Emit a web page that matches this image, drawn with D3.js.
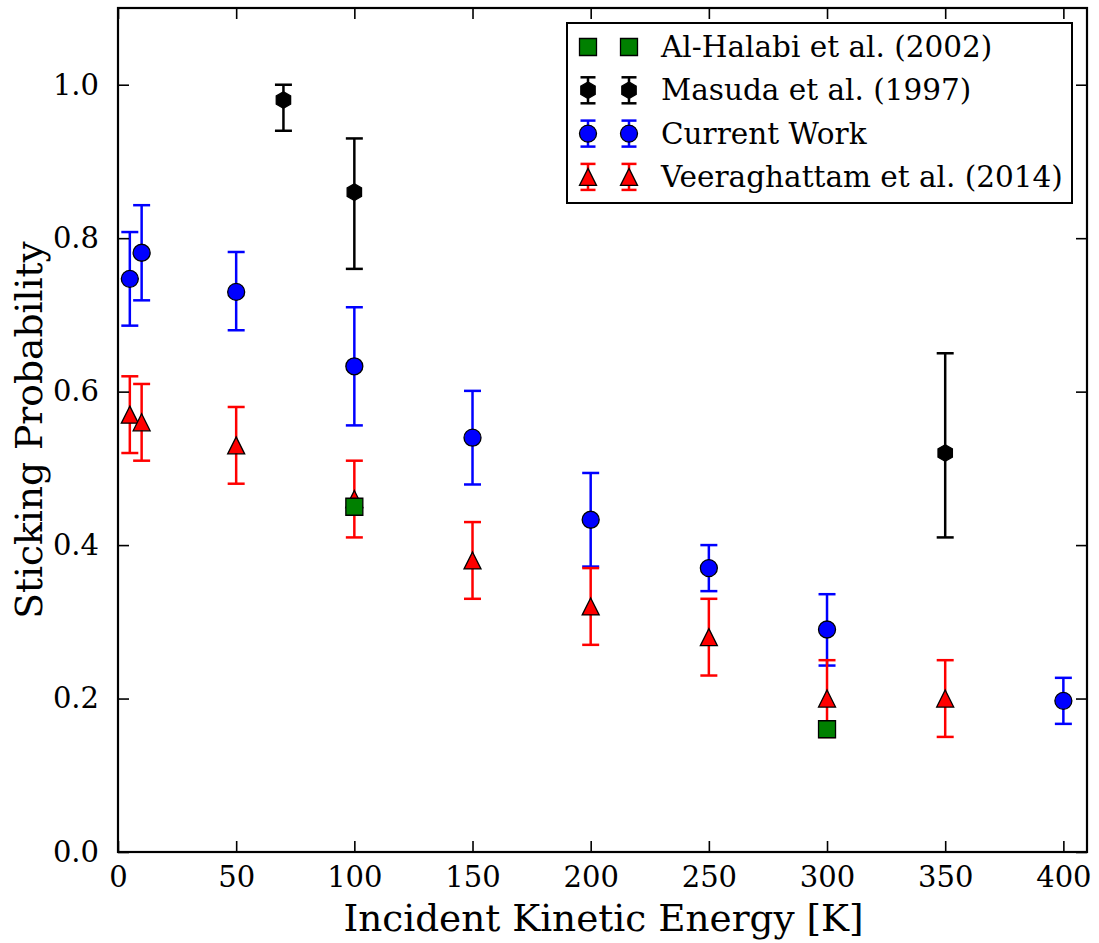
<!DOCTYPE html>
<html>
<head>
<meta charset="utf-8">
<script src="https://cdn.jsdelivr.net/npm/d3@7"></script>
<style>
  body { margin: 0; background: #fff; }
  text { font-family: 'DejaVu Serif', serif; fill: #000; }
</style>
</head>
<body>
<div class="chart"></div>
<script>
// data
const currentX = [5, 10, 50, 100, 150, 200, 250, 300, 400]
const currentY = [0.747, 0.781, 0.730, 0.633, 0.540, 0.433, 0.370, 0.290, 0.197]
const currentLo = [0.686, 0.719, 0.680, 0.556, 0.479, 0.372, 0.340, 0.243, 0.167]
const currentHi = [0.808, 0.843, 0.782, 0.710, 0.601, 0.494, 0.400, 0.336, 0.227]

const veerX = [5, 10, 50, 100, 150, 200, 250, 300, 350]
const veerY = [0.57, 0.56, 0.53, 0.46, 0.38, 0.32, 0.28, 0.20, 0.20]
const veerLo = [0.52, 0.51, 0.48, 0.41, 0.33, 0.27, 0.23, 0.15, 0.15]
const veerHi = [0.62, 0.61, 0.58, 0.51, 0.43, 0.37, 0.33, 0.25, 0.25]

const masudaX = [70, 100, 350]
const masudaY = [0.98, 0.86, 0.52]
const masudaLo = [0.94, 0.76, 0.41]
const masudaHi = [1.00, 0.93, 0.65]

const halabiX = [100, 300]
const halabiY = [0.45, 0.16]

const xTicks = [0, 50, 100, 150, 200, 250, 300, 350, 400]
const yTicks = [0.0, 0.2, 0.4, 0.6, 0.8, 1.0]

const legendNames = ['Al-Halabi et al. (2002)', 'Masuda et al. (1997)', 'Current Work', 'Veeraghattam et al. (2014)']

const svg_width = 1099
const svg_height = 943
const margin = { left: 118, right: 1087, top: 8, bottom: 852 }

const svg = d3.select('.chart').append('svg')
    .attr('width', svg_width).attr('height', svg_height)

const xScale = d3.scaleLinear([0, 410], [margin.left, margin.right])
const yScale = d3.scaleLinear([0, 1.1], [margin.bottom, margin.top])

const ms = 17

// marker paths (centred on 0,0)
function markerPath(kind) {
    const h = ms / 2
    if (kind === 'circle') return d3.symbol(d3.symbolCircle, Math.PI * h * h)()
    if (kind === 'square') return `M${-h},${-h}H${h}V${h}H${-h}Z`
    if (kind === 'triangle') return `M0,${-h}L${h},${h}L${-h},${h}Z`
    // hexagon, points up/down
    const r = 8.3
    const pts = d3.range(6).map(i => {
        const a = Math.PI / 2 + i * Math.PI / 3
        return [r * Math.cos(a), -r * Math.sin(a)]
    })
    return 'M' + pts.map(p => p.join(',')).join('L') + 'Z'
}

const series = [
    { name: 'current', xs: currentX, ys: currentY, lo: currentLo, hi: currentHi, color: '#0000ff', marker: 'circle', edge: '#000' },
    { name: 'veer', xs: veerX, ys: veerY, lo: veerLo, hi: veerHi, color: '#ff0000', marker: 'triangle', edge: '#000' },
    { name: 'masuda', xs: masudaX, ys: masudaY, lo: masudaLo, hi: masudaHi, color: '#000000', marker: 'hexagon', edge: '#000' },
    { name: 'halabi', xs: halabiX, ys: halabiY, lo: null, hi: null, color: '#008000', marker: 'square', edge: '#000' }
]

const plot = svg.append('g').attr('class', 'plot')
const capW = 17

series.forEach(s => {
    const g = plot.append('g').attr('class', s.name)
    const pts = s.xs.map((x, i) => ({ x, y: s.ys[i], lo: s.lo ? s.lo[i] : null, hi: s.hi ? s.hi[i] : null }))
    if (s.lo) {
        g.selectAll('.bar').data(pts).join('line').attr('class', 'bar')
            .attr('x1', d => xScale(d.x)).attr('x2', d => xScale(d.x))
            .attr('y1', d => yScale(d.lo)).attr('y2', d => yScale(d.hi))
            .attr('stroke', s.color).attr('stroke-width', 2.5)
        ;['lo', 'hi'].forEach(k => {
            g.selectAll('.cap' + k).data(pts).join('line').attr('class', 'cap' + k)
                .attr('x1', d => xScale(d.x) - capW / 2).attr('x2', d => xScale(d.x) + capW / 2)
                .attr('y1', d => yScale(d[k])).attr('y2', d => yScale(d[k]))
                .attr('stroke', s.color).attr('stroke-width', 2.5)
        })
    }
    g.selectAll('.pt').data(pts).join('path').attr('class', 'pt')
        .attr('transform', d => `translate(${xScale(d.x)},${yScale(d.y)})`)
        .attr('d', markerPath(s.marker))
        .attr('fill', s.color).attr('stroke', s.edge).attr('stroke-width', 1.3)
})

// axes frame with inward ticks on all sides
const tickLen = 11
const xAxisB = d3.axisBottom(xScale).tickValues(xTicks).tickSizeInner(-tickLen).tickSizeOuter(0).tickPadding(14)
const xAxisT = d3.axisTop(xScale).tickValues(xTicks).tickSizeInner(-tickLen).tickSizeOuter(0).tickFormat('')
const yAxisL = d3.axisLeft(yScale).tickValues(yTicks).tickSizeInner(-tickLen).tickSizeOuter(0).tickPadding(19).tickFormat(d3.format('.1f'))
const yAxisR = d3.axisRight(yScale).tickValues(yTicks).tickSizeInner(-tickLen).tickSizeOuter(0).tickFormat('')

function styleAxis(sel) {
    sel.select('.domain').remove()
    sel.selectAll('.tick line').attr('stroke', '#000').attr('stroke-width', 1.6)
    sel.selectAll('.tick text').attr('font-family', 'DejaVu Serif').attr('font-size', 29).attr('fill', '#000')
}
svg.append('g').attr('transform', `translate(0,${margin.bottom})`).call(xAxisB).call(styleAxis)
svg.append('g').attr('transform', `translate(0,${margin.top})`).call(xAxisT).call(styleAxis)
svg.append('g').attr('transform', `translate(${margin.left},0)`).call(yAxisL).call(styleAxis)
svg.append('g').attr('transform', `translate(${margin.right},0)`).call(yAxisR).call(styleAxis)

svg.append('rect').attr('x', margin.left).attr('y', margin.top)
    .attr('width', margin.right - margin.left).attr('height', margin.bottom - margin.top)
    .attr('fill', 'none').attr('stroke', '#000').attr('stroke-width', 2.2)

// axis labels
svg.append('text').attr('x', (margin.left + margin.right) / 2 + 1).attr('y', 931)
    .attr('text-anchor', 'middle').attr('font-size', 37.4)
    .text('Incident Kinetic Energy [K]')
svg.append('text')
    .attr('transform', `translate(42,${(margin.top + margin.bottom) / 2}) rotate(-90)`)
    .attr('text-anchor', 'middle').attr('font-size', 37.6)
    .text('Sticking Probability')

// legend
const legend = svg.append('g').attr('class', 'legend')
legend.append('rect').attr('x', 567).attr('y', 23).attr('width', 505).attr('height', 180)
    .attr('fill', '#fff').attr('stroke', '#000').attr('stroke-width', 2)

const legendOrder = [series[3], series[2], series[0], series[1]]
legendOrder.forEach((s, i) => {
    const cy = 47 + i * 43.3
    const row = legend.append('g')
    ;[588, 629].forEach(cx => {
        if (s.lo) {
            row.append('line').attr('x1', cx).attr('x2', cx).attr('y1', cy - 13).attr('y2', cy + 13)
                .attr('stroke', s.color).attr('stroke-width', 2.5)
            ;[-13, 13].forEach(dy => row.append('line')
                .attr('x1', cx - 7.5).attr('x2', cx + 7.5).attr('y1', cy + dy).attr('y2', cy + dy)
                .attr('stroke', s.color).attr('stroke-width', 2.5))
        }
        row.append('path').attr('transform', `translate(${cx},${cy})`)
            .attr('d', markerPath(s.marker))
            .attr('fill', s.color).attr('stroke', s.edge).attr('stroke-width', 1.3)
    })
    row.append('text').attr('x', 661).attr('y', cy + 10).attr('font-size', 29.5)
        .text(legendNames[i])
})
</script>
</body>
</html>
